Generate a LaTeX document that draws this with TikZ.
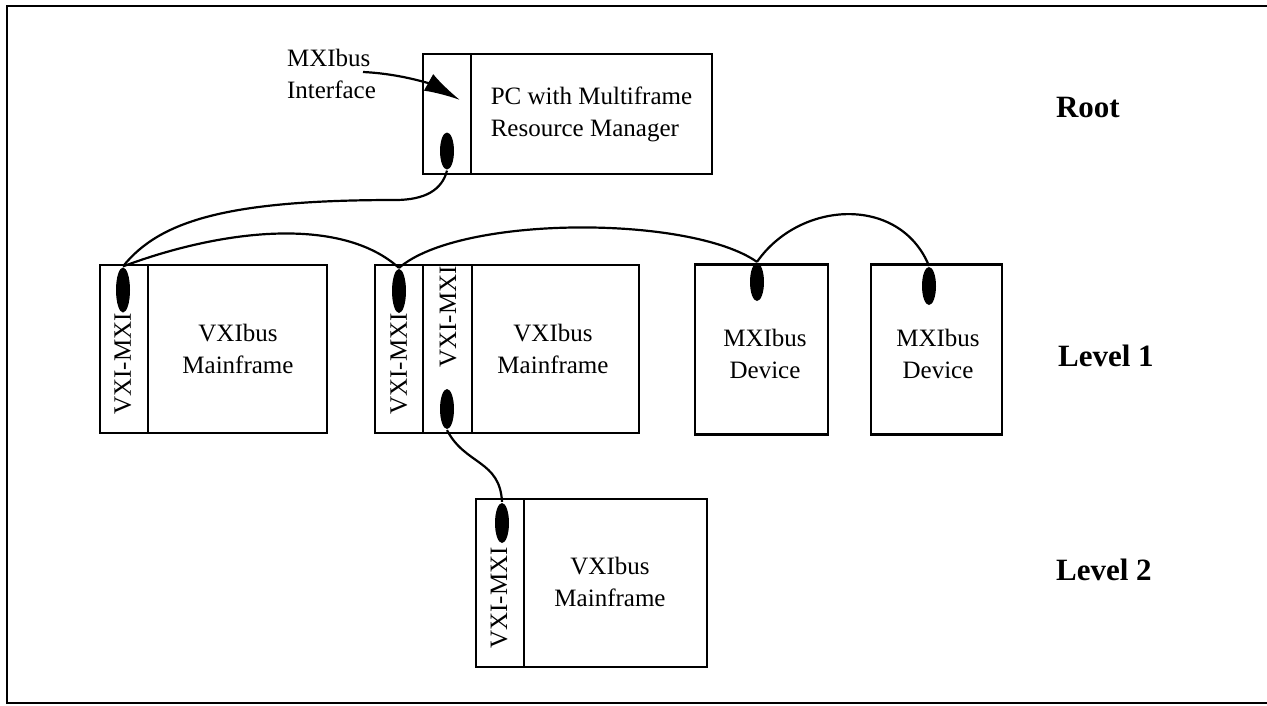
\documentclass[tikz,border=0pt]{standalone}
\usepackage{fontspec}
\setmainfont{Liberation Serif}
\usetikzlibrary{shapes.geometric, arrows.meta}
\begin{document}
\begin{tikzpicture}[x=1pt, y=-1pt, line width=2.2pt,
	frame/.style={draw, inner sep=0pt, minimum height=168pt},
	port/.style={ellipse, fill=black, inner sep=0pt, minimum width=14pt, minimum height=40pt},
	txt/.style={font=\fontsize{25}{32}\selectfont, align=center, inner sep=0pt},
	vtxt/.style={txt, rotate=90},
	level/.style={font=\fontsize{31}{36}\selectfont\bfseries, anchor=base west, inner sep=0pt}]
		\useasboundingbox (0,0) rectangle (1267,705);
		\draw (1267,6) -- (7,6) -- (7,703) -- (1267,703);
		% root
		\node[frame, minimum width=48pt, minimum height=120pt] (pcstrip) at (447,114) {};
		\node[frame, minimum width=241pt, minimum height=120pt, txt, align=left] (pc) at (591.5,114) {PC with Multiframe\\Resource Manager};
		\node[port, minimum height=37pt] (pcport) at (447,151) {};
		\node[txt, align=left, anchor=west] (iflabel) at (286,74) {MXIbus\\Interface};
		\coordinate (iftail) at (363,72);
		\coordinate (iftip) at (460,100);
		\draw[-{Latex[length=36pt,width=19pt]}] (iftail) .. controls (405,74) and (435,86) .. (iftip);
		% level 1
		\node[frame, minimum width=48pt] (astrip) at (124,349) {};
		\node[frame, minimum width=179pt] (abox) at (237.5,349) {};
		\node[txt] (atext) at (238,349) {VXIbus\\Mainframe};
		\node[vtxt] (alabel) at (123,364) {VXI-MXI};
		\node[port, minimum height=45pt] (aport) at (123,290) {};
		\node[frame, minimum width=48pt] (b1strip) at (399,349) {};
		\node[frame, minimum width=49pt] (b2strip) at (447.5,349) {};
		\node[frame, minimum width=167pt] (bbox) at (555.5,349) {};
		\node[txt] (btext) at (553,349) {VXIbus\\Mainframe};
		\node[vtxt] (b1label) at (399,364) {VXI-MXI};
		\node[vtxt] (b2label) at (448,317) {VXI-MXI};
		\node[port, minimum height=44pt] (b1port) at (399,291) {};
		\node[port] (b2port) at (447,409) {};
		\node[frame, minimum width=133pt, minimum height=170pt] (cbox) at (761.5,349.5) {};
		\node[txt] (ctext) at (765,354) {MXIbus\\Device};
		\node[port, minimum height=38pt] (cport) at (757,282) {};
		\node[frame, minimum width=131pt, minimum height=170pt] (dbox) at (936.5,349.5) {};
		\node[txt] (dtext) at (938,354) {MXIbus\\Device};
		\node[port, minimum height=38pt] (dport) at (929,286) {};
		% level 2
		\node[frame, minimum width=48pt] (estrip) at (500,583) {};
		\node[frame, minimum width=183pt] (ebox) at (615.5,583) {};
		\node[txt] (etext) at (610,582) {VXIbus\\Mainframe};
		\node[vtxt] (elabel) at (499,598) {VXI-MXI};
		\node[port] (eport) at (502,523) {};
		\foreach \n/\x/\y/\t in {root/1055/117/Root, lvla/1057/366/Level 1, lvlb/1055/580/Level 2}{
		  \node[level] (\n) at (\x,\y) {\t};
		}
		% cables
		\draw (pcport.south) .. controls (442,190) and (425,200) .. (395,200) .. controls (230,200) and (160,220) .. (aport.north);
		\draw (aport.north) .. controls (220,230) and (340,215) .. (b1port.north);
		\draw (b1port.north) .. controls (460,215) and (690,215) .. (cport.north);
		\draw (cport.north) .. controls (800,200) and (900,195) .. (dport.north);
		\draw (b2port.south) .. controls (465,465) and (500,460) .. (eport.north);
	\end{tikzpicture}
\end{document}
